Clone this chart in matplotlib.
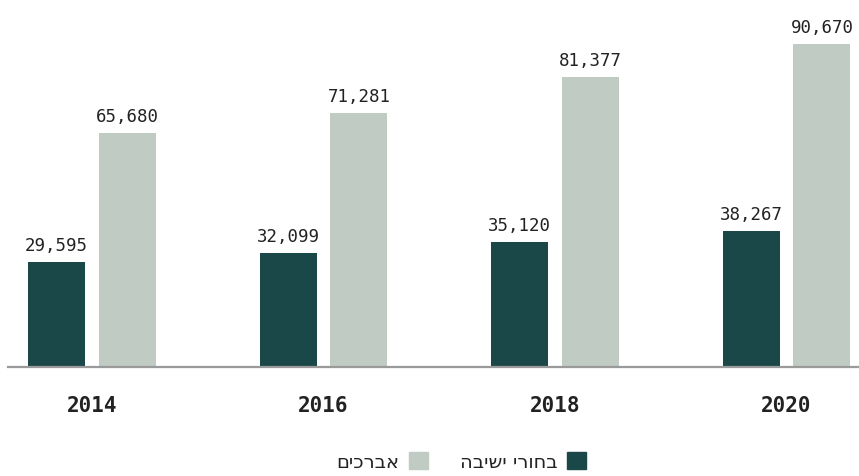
import matplotlib
matplotlib.use("Agg")
import matplotlib.pyplot as plt
from matplotlib.patches import Patch
import numpy as np

years = ["2014", "2016", "2018", "2020"]
yeshiva = [29595, 32099, 35120, 38267]   # בחורי ישיבה
avrechim = [65680, 71281, 81377, 90670]  # אברכים
series_names = ["בחורי ישיבה", "אברכים"]

DARK = "#1a4848"
LIGHT = "#c0cbc3"
TXT = "#222222"


def rtl(s):
    # matplotlib lays glyphs left to right, so flip Hebrew for display
    return s[::-1]


fig = plt.figure(figsize=(8.59, 4.77), dpi=100)
ax = fig.add_axes([8 / 859, 109 / 477, 851 / 859, 358 / 477])

x = np.arange(len(years))
w = 0.246
off = 0.153
b1 = ax.bar(x - off, yeshiva, w, color=DARK)
b2 = ax.bar(x + off, avrechim, w, color=LIGHT)

for bars, vals in ((b1, yeshiva), (b2, avrechim)):
    for b, v in zip(bars, vals):
        ax.annotate(f"{v:,}", (b.get_x() + b.get_width() / 2, v),
                    xytext=(0, 5.5), textcoords="offset points",
                    ha="center", va="bottom", fontsize=12.5,
                    family="DejaVu Sans Mono", color=TXT)

ax.set_xlim(-0.363, 3.313)
ax.set_ylim(0, 100494)
for s in ["top", "right", "left"]:
    ax.spines[s].set_visible(False)
ax.spines["bottom"].set_color("#9a9a9a")
ax.spines["bottom"].set_linewidth(1.6)
ax.set_yticks([])
ax.set_xticks(x)
ax.set_xticklabels(years, fontsize=15, fontweight="bold",
                   family="DejaVu Sans Mono", color=TXT)
ax.tick_params(axis="x", length=0, pad=20)

handles = [Patch(color=LIGHT, label=rtl(series_names[1])),
           Patch(color=DARK, label=rtl(series_names[0]))]
fig.legend(handles=handles, ncol=2, markerfirst=False, frameon=False,
           loc="center", bbox_to_anchor=(0.537, 0.03),
           prop={"family": "DejaVu Sans", "size": 14},
           handlelength=1.0, handleheight=1.0, columnspacing=1.6,
           handletextpad=0.5, labelcolor=TXT, borderpad=0.2)

fig.savefig("out.png", dpi=100)
plt.close()
